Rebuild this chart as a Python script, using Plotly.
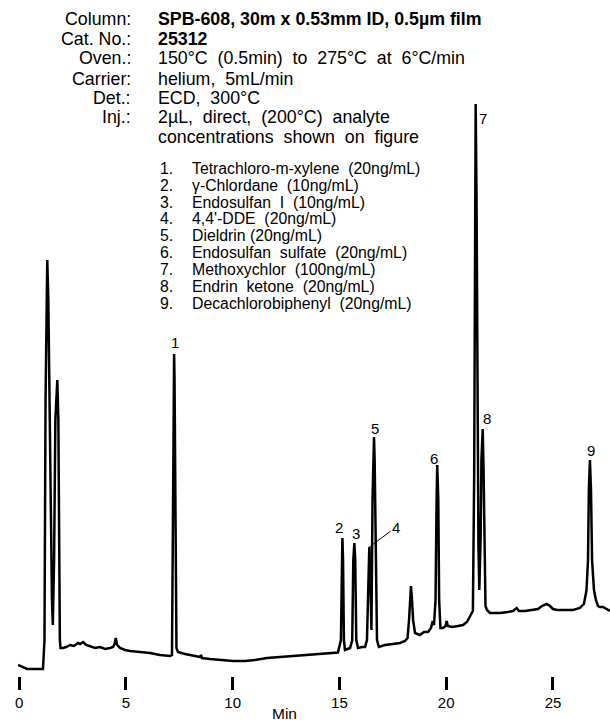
import plotly.graph_objects as go

# ---------------- data ----------------
# retention time in minutes
time_min = [
    -0.05, 0.14, 0.37, 1.12, 1.19, 1.24, 1.29, 1.32, 1.37, 1.42, 1.45, 1.50, 1.54, 1.58, 1.64, 1.70, 1.76, 1.79, 1.84, 1.87, 1.91, 1.94,
    2.06, 2.20, 2.39, 2.57, 2.76, 2.86, 3.00, 3.14, 3.32, 3.56, 3.79, 4.03, 4.26, 4.40, 4.47, 4.53, 4.59, 4.73, 4.96, 5.20, 5.66, 6.13, 6.60, 7.07, 7.16,
    7.21, 7.24, 7.26, 7.28, 7.33, 7.37, 7.44, 7.77, 8.24, 8.47, 8.52, 8.57, 8.94, 9.41, 10.02, 10.58, 11.05, 11.61, 12.22, 12.83, 13.16, 13.62, 14.09, 14.56, 14.93,
    15.07, 15.10, 15.14, 15.17, 15.21, 15.26, 15.50, 15.60, 15.65, 15.70, 15.74, 15.79, 15.87, 16.06, 16.20, 16.29, 16.36, 16.40, 16.45, 16.50, 16.55, 16.59, 16.62, 16.65, 16.70, 16.76, 16.85,
    17.13, 17.51, 17.84, 18.07, 18.19, 18.26, 18.31, 18.35, 18.40, 18.45, 18.54, 18.68, 18.77, 18.96, 19.15, 19.29, 19.37, 19.43, 19.50, 19.55, 19.58, 19.63, 19.67, 19.73, 19.85, 19.97, 20.02, 20.08, 20.27, 20.55, 20.79, 20.97, 21.11, 21.25,
    21.31, 21.35, 21.38, 21.42, 21.46, 21.51, 21.55, 21.61, 21.65, 21.71, 21.75, 21.79, 21.84, 21.91, 22.05, 22.28, 22.52, 22.89, 23.13, 23.30, 23.41, 23.69, 24.06, 24.30, 24.48, 24.70, 24.86, 25.00, 25.19, 25.56, 25.94, 26.26, 26.45, 26.57, 26.64, 26.68, 26.73, 26.78, 26.83, 26.92, 27.01, 27.11, 27.20, 27.34, 27.48, 27.67,
]
# detector response (arbitrary units)
signal = [
    11, 9, 7, 7, 36, 276, 396, 416, 376, 276, 239, 156, 76, 51, 116, 256, 291, 296, 256, 116, 36, 28,
    28, 29, 31, 30, 33, 32, 34, 31, 30, 28, 29, 27, 28, 29, 32, 38, 31, 28, 26, 25, 24, 23, 21, 20, 21,
    176, 296, 322, 296, 116, 28, 24, 22, 20, 19, 21, 18, 17, 16, 15, 15, 16, 18, 19, 20, 20, 21, 22, 23, 23.5,
    36, 116, 138, 116, 36, 26, 28, 36, 116, 133, 116, 36, 28, 29, 29, 36, 116, 129, 96, 46, 176, 226, 239, 216, 116, 36, 29,
    31, 32, 33, 35, 38, 56, 81, 90, 76, 56, 43, 42, 41, 44, 44, 48, 55, 51, 76, 176, 211, 176, 76, 48, 48, 50, 55, 50, 49, 50, 51, 54, 60, 65,
    200, 470, 572, 480, 280, 130, 86, 136, 216, 247, 206, 116, 70, 66, 63, 63, 63, 64, 65, 68, 65, 65, 66, 67, 70, 72, 70, 67, 66, 66, 66, 68, 72, 86, 116, 186, 216, 186, 116, 86, 76, 70, 69, 69, 67, 65,
]

peak_ids = ["1", "2", "3", "4", "5", "6", "7", "8", "9"]
peak_time = [7.26, 15.14, 15.70, 16.40, 16.62, 19.58, 21.38, 21.71, 26.73]
peak_height = [322, 138, 133, 129, 239, 211, 572, 247, 216]

tick_vals = [0, 5, 10, 15, 20, 25]
tick_text = ["0", "5", "10", "15", "20", "25"]
x_title = "Min"

cond_labels = ["Column:", "Cat. No.:", "Oven.:", "Carrier:", "Det.:", "Inj.:", ""]
cond_values = [
    "<b>SPB-608, 30m x 0.53mm ID, 0.5µm film</b>",
    "<b>25312</b>",
    "150°C  (0.5min)  to  275°C  at  6°C/min",
    "helium,  5mL/min",
    "ECD,  300°C",
    "2µL,  direct,  (200°C)  analyte",
    "concentrations  shown  on  figure",
]
compounds = [
    "Tetrachloro-m-xylene  (20ng/mL)",
    "γ-Chlordane  (10ng/mL)",
    "Endosulfan  I  (10ng/mL)",
    "4,4'-DDE  (20ng/mL)",
    "Dieldrin (20ng/mL)",
    "Endosulfan  sulfate  (20ng/mL)",
    "Methoxychlor  (100ng/mL)",
    "Endrin  ketone  (20ng/mL)",
    "Decachlorobiphenyl  (20ng/mL)",
]

# ---------------- layout helpers ----------------
W, H = 610, 723
ML, MR, MT, MB = 18, 0, 96, 47
PW, PH = W - ML - MR, H - MT - MB
FONT = "Liberation Sans, Arial, Helvetica, sans-serif"


def P(px, py):
    return (px - ML) / PW, (MT + PH - py) / PH


fig = go.Figure()
fig.add_trace(go.Scatter(
    x=time_min, y=signal, mode="lines",
    line=dict(color="black", width=2.5),
    hoverinfo="skip", showlegend=False,
))

ann = []
# method conditions
row_y = [19, 38.5, 58.5, 78.5, 97.7, 117, 136.5]
for lab, val, py in zip(cond_labels, cond_values, row_y):
    if lab:
        xp, yp = P(133, py)
        ann.append(dict(text=lab, x=xp, y=yp, xref="paper", yref="paper",
                        xanchor="right", yanchor="middle", showarrow=False,
                        font=dict(size=17.8, color="black", family=FONT)))
    xp, yp = P(156, py)
    ann.append(dict(text=val, x=xp, y=yp, xref="paper", yref="paper",
                    xanchor="left", yanchor="middle", showarrow=False,
                    font=dict(size=17.8, color="black", family=FONT)))

# compound list
for i, name in enumerate(compounds):
    py = 168.3 + i * 16.87
    xp, yp = P(158, py)
    ann.append(dict(text=f"{i + 1}.", x=xp, y=yp, xref="paper", yref="paper",
                    xanchor="left", yanchor="middle", showarrow=False,
                    font=dict(size=15.8, color="black", family=FONT)))
    xp, yp = P(190, py)
    ann.append(dict(text=name, x=xp, y=yp, xref="paper", yref="paper",
                    xanchor="left", yanchor="middle", showarrow=False,
                    font=dict(size=15.8, color="black", family=FONT)))

# peak labels (pixel offsets from each apex)
offsets = {"1": (1, 12), "2": (-3, 11), "3": (1.5, 10), "5": (1, 9), "6": (-3, 7),
           "7": (7.5, -14), "8": (4, 11), "9": (1, 10)}
for pid, t, h in zip(peak_ids, peak_time, peak_height):
    if pid == "4":
        ann.append(dict(text=pid, x=t, y=h, xref="x", yref="y", showarrow=True,
                        ax=27, ay=-20, axref="pixel", ayref="pixel", arrowhead=0,
                        arrowwidth=1, arrowcolor="black", standoff=0,
                        font=dict(size=15, color="black", family=FONT)))
    else:
        dx, dy = offsets[pid]
        ann.append(dict(text=pid, x=t, y=h, xref="x", yref="y", showarrow=False,
                        xanchor="center", yanchor="middle", xshift=dx, yshift=dy,
                        font=dict(size=15, color="black", family=FONT)))

# x-axis title
ann.append(dict(text=x_title, x=12.41, y=P(0, 713)[1], xref="x", yref="paper",
                xanchor="center", yanchor="middle", showarrow=False,
                font=dict(size=15.5, color="black", family=FONT)))

fig.update_layout(
    width=W, height=H,
    margin=dict(l=ML, r=MR, t=MT, b=MB, pad=0),
    paper_bgcolor="white", plot_bgcolor="white",
    font=dict(family=FONT, color="black"),
    annotations=ann,
    xaxis=dict(range=[-0.05, 27.67], tickvals=tick_vals, ticktext=tick_text,
               ticks="outside", ticklen=13, tickwidth=3, tickcolor="black",
               showline=False, showgrid=False, zeroline=False,
               tickfont=dict(size=15, color="black", family=FONT),
               fixedrange=True),
    yaxis=dict(range=[0, 580], visible=False, fixedrange=True),
)

fig.write_html(
    "out.html",
    config={"displayModeBar": False, "staticPlot": True},
    post_script="document.body.style.margin='0';document.body.style.overflow='hidden';",
)
